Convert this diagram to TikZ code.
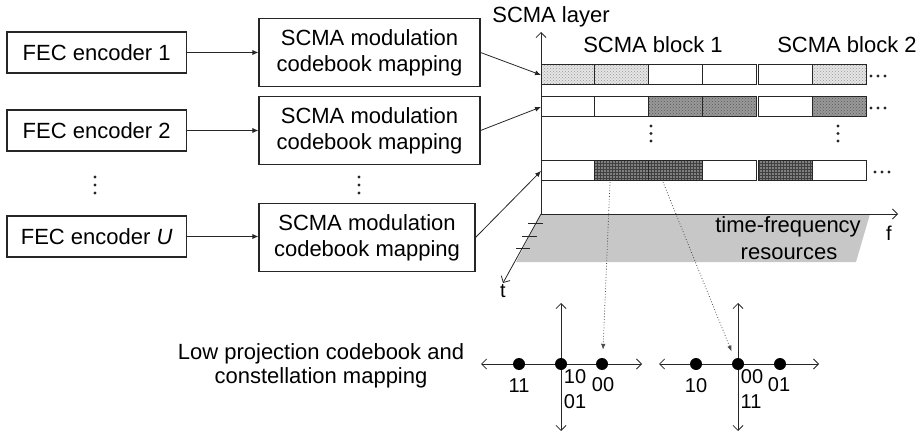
\documentclass[tikz,border=0pt]{standalone}
\usepackage{fontspec}
\setmainfont{Liberation Sans}
\usetikzlibrary{arrows.meta,patterns,calc}
\tikzset{barb/.tip={Straight Barb[length=5pt,width=10pt]}}
\begin{document}
\begin{tikzpicture}[x=1pt,y=-1pt,
  txt/.style={font=\fontsize{22}{26}\selectfont, inner sep=0pt},
  box/.style={draw=black!85, line width=1.1pt, align=center, font=\fontsize{22}{26}\selectfont, inner sep=0pt},
  conn/.style={draw=black!85, line width=0.8pt, -{Latex[length=6pt,width=5pt]}},
  axis/.style={draw=black!85, line width=0.8pt},
  cell/.style={draw=black!85, line width=1pt, minimum height=20pt, inner sep=0pt, outer sep=0pt, anchor=north west},
  cellW/.style={fill=white},
  cellL/.style={preaction={fill=black!10}, pattern=crosshatch dots, pattern color=black!40},
  cellM/.style={preaction={fill=black!40}, pattern=crosshatch dots, pattern color=black!65},
  cellD/.style={preaction={fill=black!50}, pattern=grid, pattern color=black!75},
  dotm/.style={circle, fill=black!85, inner sep=0pt, minimum size=3.4pt},
  cdot/.style={circle, fill=black, inner sep=0pt, minimum width=11pt, minimum height=12pt},
  lab/.style={font=\fontsize{20}{22}\selectfont, inner sep=0pt, anchor=base},
  dotarrow/.style={draw=black!70, dotted, line width=0.8pt, -{Latex[length=6pt,width=4.5pt]}}
]
\useasboundingbox (0,0) rectangle (924,433);

% ---------- left boxes ----------
\node[box, minimum width=179.5pt, minimum height=41pt] (f1) at (96.7,52.5) {FEC encoder 1};
\node[box, minimum width=179.5pt, minimum height=41pt] (f2) at (96.7,130.5) {FEC encoder 2};
\node[box, minimum width=179.5pt, minimum height=41pt] (fu) at (96.7,236.5) {FEC encoder \textit{U}};

\node[box, minimum width=221pt, minimum height=68pt] (s1) at (369.5,52.5) {SCMA modulation\\codebook mapping};
\node[box, minimum width=221pt, minimum height=68pt] (s2) at (369.5,130.5) {SCMA modulation\\codebook mapping};
\node[box, minimum width=216pt, minimum height=68pt] (s3) at (367,237.5) {SCMA modulation\\codebook mapping};

\draw[conn] (f1.east) -- (f1.east -| s1.west);
\draw[conn] (f2.east) -- (f2.east -| s2.west);
\draw[conn] (fu.east) -- (fu.east -| s3.west);

\foreach \yy [count=\i] in {177,185,193} {
  \node[dotm] (fd\i) at (95,\yy) {};
  \node[dotm] (sd\i) at (359,\yy) {};
}

% ---------- time-frequency plane ----------
\coordinate (O) at (541,214);
\coordinate (ytop) at (541,32);
\coordinate (fend) at (898,214);
\coordinate (tend) at (503,283);
\fill[black!22] (O) -- (870,214) -- (856,262) -- (516,262) -- cycle;
\draw[axis, {barb}-{barb}] (ytop) -- (O) -- (fend);
\draw[axis, -{barb}] (O) -- (tend);
\draw[axis] (528,223) -- (543,223);
\draw[axis] (522,236) -- (537,236);
\draw[axis] (516,248) -- (530,248);
\node[font=\fontsize{20}{22}\selectfont, inner sep=0pt, anchor=base] (tl) at (503,297) {t};
\node[font=\fontsize{20}{22}\selectfont, inner sep=0pt, anchor=base] (fl) at (889,240) {f};
\node[txt, anchor=base] (tf1) at (788,233) {time-frequency};
\node[txt, anchor=base] (tf2) at (789,259) {resources};

\node[txt, anchor=base] (layer) at (551,23) {SCMA layer};
\node[txt, anchor=base] (b1) at (653,53) {SCMA block 1};
\node[txt, anchor=base] (b2) at (847,53) {SCMA block 2};

% ---------- rows of cells ----------
\foreach \r/\y/\sa/\sb/\sc/\sd/\se/\sf in {1/65/cellL/cellL/cellW/cellW/cellW/cellL,
                                             2/97/cellW/cellW/cellM/cellM/cellW/cellM,
                                             3/161/cellW/cellD/cellD/cellW/cellD/cellW} {
  \node[cell,\sa, minimum width=53.75pt] (r\r-c1) at (541,\y) {};
  \node[cell,\sb, minimum width=53.75pt] (r\r-c2) at (594.75,\y) {};
  \node[cell,\sc, minimum width=53.75pt] (r\r-c3) at (648.5,\y) {};
  \node[cell,\sd, minimum width=53.75pt] (r\r-c4) at (702.25,\y) {};
  \node[cell,\se, minimum width=54pt] (r\r-c5) at (758,\y) {};
  \node[cell,\sf, minimum width=54pt] (r\r-c6) at (812,\y) {};
}
\foreach \r/\x in {1/871,2/871,3/875} {
  \foreach \k in {0,1,2} {
    \node[dotm, minimum size=3.2pt] (e\r-\k) at ($(r\r-c6.east)+(\x-866+7*\k,1)$) {};
  }
}
\foreach \yy [count=\i] in {126,133.5,141} {
  \node[dotm] (vd\i) at (651,\yy) {};
  \node[dotm] (wd\i) at (838,\yy) {};
}

\draw[conn] (s1.east) -- (r1-c1.west);
\draw[conn] (s2.east) -- (r2-c1.west);
\draw[conn] (s3.east) -- (r3-c1.west);

% ---------- constellations ----------
\node[txt, align=center, font=\fontsize{22}{24}\selectfont, anchor=base] (lp) at (321,383) {Low projection codebook and\\constellation mapping};

\coordinate (av1t) at (561,303); \coordinate (av1b) at (561,431);
\coordinate (ah1l) at (481,364); \coordinate (ah1r) at (642,364);
\coordinate (av2t) at (738,303); \coordinate (av2b) at (738,431);
\coordinate (ah2l) at (659,364); \coordinate (ah2r) at (819,364);
\draw[axis, {barb}-{barb}] (av1t) -- (av1b);
\draw[axis, {barb}-{barb}] (ah1l) -- (ah1r);
\draw[axis, {barb}-{barb}] (av2t) -- (av2b);
\draw[axis, {barb}-{barb}] (ah2l) -- (ah2r);

\node[cdot] (ca) at (519,364) {};
\node[cdot] (cb) at (561,364) {};
\node[cdot] (cc) at (602,364) {};
\node[cdot] (da) at (696,364) {};
\node[cdot] (db) at (738,364) {};
\node[cdot] (dc) at (780,364) {};

\node[lab] (la) at (519,392) {11};
\node[lab] (lb) at (575,383) {10};
\node[lab] (lc) at (603,391) {00};
\node[lab] (ld) at (575,408) {01};
\node[lab] (ma) at (696,392) {10};
\node[lab] (mb) at (752,383) {00};
\node[lab] (mc) at (779,391) {01};
\node[lab] (md) at (751,408) {11};

\coordinate (p1) at (610,182);
\coordinate (p2) at (663,182);
\draw[dotarrow] (p1) -- ($(cc.north)+(1,-8)$);
\draw[dotarrow] (p2) -- ($(db.north west)+(-2,-8)$);
\end{tikzpicture}
\end{document}
